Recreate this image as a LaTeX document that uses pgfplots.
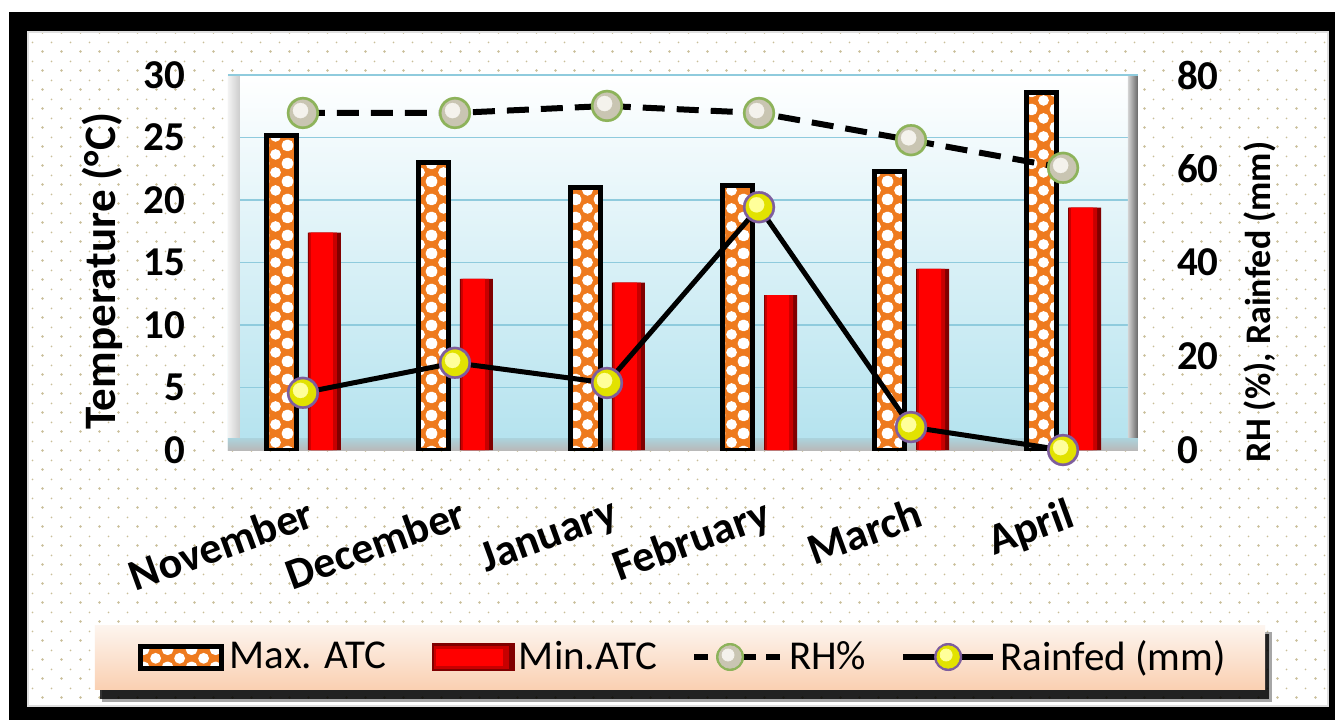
\documentclass[border=0pt]{standalone}
\usepackage{fontspec}
\setmainfont{Carlito}
\usepackage{pgfplots}
\pgfplotsset{compat=1.18}
\usetikzlibrary{patterns.meta}

\definecolor{orangeP}{HTML}{EE7A1E}
\definecolor{gridblue}{HTML}{8FCBDD}
\definecolor{bgbot}{HTML}{B3E2EE}
\definecolor{dotc}{HTML}{C9BE98}
\definecolor{rimgreen}{HTML}{8DB35A}
\definecolor{rimpurple}{HTML}{7E5E9E}
\definecolor{ballgray}{HTML}{C9C5B2}
\definecolor{ballyellow}{HTML}{E2E200}
\definecolor{hlgray}{HTML}{F4F2EC}
\definecolor{hlyellow}{HTML}{FFFF9A}
\definecolor{legtop}{HTML}{FDF5EF}
\definecolor{legbot}{HTML}{FAD0B2}

\tikzdeclarepattern{name=bgdots, type=uncolored,
  bounding box={(0pt,0pt) and (9.5pt,9.5pt)}, tile size={(9.5pt,9.5pt)},
  code={\fill (2.375pt,2.375pt) circle (0.75pt); \fill (7.125pt,7.125pt) circle (0.5pt);}}
\tikzdeclarepattern{name=whitedots, type=uncolored,
  bounding box={(0pt,0pt) and (12pt,9pt)}, tile size={(12pt,9pt)},
  code={\fill (0pt,0pt) circle (2.8pt); \fill (12pt,0pt) circle (2.8pt);
        \fill (0pt,9pt) circle (2.8pt); \fill (12pt,9pt) circle (2.8pt);
        \fill (6pt,4.5pt) circle (2.8pt);}}

\pgfplotstableread{
x maxatc minatc rh rain
0 25.2 17.4 71.9 12.2
1 23.0 13.7 71.9 18.6
2 21.0 13.4 73.4 14.3
3 21.2 12.4 71.9 51.8
4 22.3 14.5 66.1 4.9
5 28.6 19.4 60.2 0
}\datatable

\pgfplotsset{
  common/.style={
    at={(0pt,0pt)}, anchor=south west,
    scale only axis, width=455pt, height=187.5pt,
    xmin=-0.493, xmax=5.493, ymin=0,
    /pgf/number format/assume math mode=true,
    major tick length=0pt,
    axis line style={draw=none},
  }
}

\begin{document}
\begin{tikzpicture}
% frame and dotted panel
\fill[white] (-114pt,225pt) rectangle (553.5pt,-135pt);
\fill[black] (-109.5pt,219pt) rectangle (553.5pt,-135pt);
\fill[white] (-100pt,209pt) rectangle (550pt,-128pt);
\fill[pattern=bgdots, pattern color=dotc] (-100pt,209pt) rectangle (550pt,-128pt);
\draw[gray!25, line width=1pt] (-100pt,209pt) rectangle (550pt,-128pt);
% legend box with shadow
\fill[black, opacity=0.35] (-63pt,-91pt) rectangle (522pt,-126pt);
\fill[black, opacity=0.8] (-64pt,-92pt) rectangle (520.5pt,-124.5pt);
\fill[top color=legtop, bottom color=legbot] (-66.5pt,-87.5pt) rectangle (518.5pt,-119.5pt);

\begin{axis}[common,
  ymax=30, ytick={0,5,...,30},
  ymajorgrids, grid style={gridblue, line width=0.8pt},
  xtick={0,...,5},
  xticklabels={November,December,January,February,March,April},
  xticklabel style={rotate=20, anchor=north east, font=\fontsize{22}{26}\selectfont\bfseries, xshift=-3pt, yshift=-19pt},
  yticklabel style={font=\fontsize{20.5}{24}\selectfont\bfseries, xshift=-18pt},
  axis background/.style={top color=white, bottom color=bgbot},
  ylabel={Temperature (°C)},
  every axis y label/.style={at={(axis description cs:-0.1385,0.477)}, rotate=90, anchor=center, font=\fontsize{22.5}{26}\selectfont\bfseries},
]
% 3D walls
\fill[left color=gray!10, right color=gray!40] (axis description cs:0,0) rectangle (axis description cs:0.013,1);
\fill[left color=gray!35, right color=gray!80!black] (axis description cs:0.989,0) rectangle (axis description cs:1,1);
\fill[top color=gray!15!bgbot, bottom color=gray!55] (axis description cs:0,0) rectangle (axis description cs:1,0.032);
\draw[gridblue, line width=0.8pt] (axis description cs:0,1) -- (axis description cs:1,1);

% Max ATC: orange base, white dot pattern, black frame
\addplot[ybar, bar width=15pt, bar shift=-10.75pt, draw=none, fill=orangeP]
  table[x=x, y=maxatc] {\datatable};
\addplot[ybar, bar width=15pt, bar shift=-10.75pt, draw=black, line width=2.5pt,
  pattern=whitedots, pattern color=white]
  table[x=x, y=maxatc] {\datatable};
% Min ATC: layered reds for a 3D look
\addplot[ybar, bar width=16.5pt, bar shift=10.75pt, draw=none, fill=red!50!black]
  table[x=x, y=minatc] {\datatable};
\addplot[ybar, bar width=14pt, bar shift=10pt, draw=none, fill=red!78!black]
  table[x=x, y=minatc] {\datatable};
\addplot[ybar, bar width=11pt, bar shift=9.5pt, draw=none, fill=red]
  table[x=x, y=minatc] {\datatable};
\end{axis}

\begin{axis}[common,
  ymax=80, ytick={0,20,...,80},
  axis y line*=right, axis x line=none,
  yticklabel style={font=\fontsize{20.5}{24}\selectfont\bfseries, xshift=16pt},
  ylabel={RH (\%), Rainfed (mm)},
  every axis y label/.style={at={(axis description cs:1.134,0.395)}, rotate=90, anchor=center, font=\fontsize{18}{22}\selectfont\bfseries},
  clip=false,
  legend columns=4,
  legend style={at={(axis description cs:0.501,-0.552)}, anchor=center, draw=none, fill=none,
    font=\fontsize{20.5}{25}\selectfont,
    /tikz/every even column/.append style={column sep=15pt}},
  legend entries={Max. ATC\hspace*{6pt}, Min.ATC, RH\%, Rainfed (mm)},
]
\addlegendimage{legend image code/.code={
  \fill[orangeP] (0pt,-5.5pt) rectangle (40.5pt,5.5pt);
  \fill[pattern=whitedots, pattern color=white] (0pt,-5.5pt) rectangle (40.5pt,5.5pt);
  \draw[black, line width=2.5pt] (0pt,-5.5pt) rectangle (40.5pt,5.5pt);
  \path (42.5pt,0pt);}}
\addlegendimage{legend image code/.code={
  \fill[red!50!black] (0pt,-6.75pt) rectangle (41pt,6.75pt);
  \fill[red!78!black] (1pt,-5.5pt) rectangle (38pt,5.5pt);
  \fill[red] (2pt,-4pt) rectangle (35pt,4pt);}}
\addlegendimage{legend image code/.code={
  \draw[black, line width=3pt, dash pattern=on 7pt off 5pt] (0pt,0pt) -- (44pt,0pt);
  \fill[rimgreen] (18pt,0pt) circle (6.8pt);
  \fill[ballgray] (18pt,0pt) circle (5.6pt);
  \fill[hlgray] (17pt,1pt) circle (3pt);
  \path (44.5pt,0pt);}}
\addlegendimage{legend image code/.code={
  \draw[black, line width=3pt] (0pt,0pt) -- (45pt,0pt);
  \fill[rimpurple] (22.5pt,0pt) circle (6.8pt);
  \fill[ballyellow] (22.5pt,0pt) circle (5.6pt);
  \fill[hlyellow] (21.5pt,1pt) circle (3pt);
  \path (45.5pt,0pt);}}

\addplot[forget plot, black, line width=3pt, dash pattern=on 11pt off 6pt,
  mark=*, mark size=8pt, mark options={solid, fill=rimgreen, draw=rimgreen, line width=0.1pt}]
  table[x=x, y=rh] {\datatable};
\addplot[forget plot, only marks, mark=*, mark size=6.6pt, mark options={fill=ballgray, draw=ballgray, line width=0.1pt}]
  table[x=x, y=rh] {\datatable};
\addplot[forget plot, only marks, mark=*, mark size=3.8pt, mark options={fill=hlgray, draw=hlgray, line width=0.1pt, xshift=-1.2pt, yshift=1.2pt}]
  table[x=x, y=rh] {\datatable};
\addplot[forget plot, black, line width=2.5pt,
  mark=*, mark size=8pt, mark options={fill=rimpurple, draw=rimpurple, line width=0.1pt}]
  table[x=x, y=rain] {\datatable};
\addplot[forget plot, only marks, mark=*, mark size=6.6pt, mark options={fill=ballyellow, draw=ballyellow, line width=0.1pt}]
  table[x=x, y=rain] {\datatable};
\addplot[forget plot, only marks, mark=*, mark size=3.8pt, mark options={fill=hlyellow, draw=hlyellow, line width=0.1pt, xshift=-1.2pt, yshift=1.2pt}]
  table[x=x, y=rain] {\datatable};
\end{axis}
\end{tikzpicture}
\end{document}
